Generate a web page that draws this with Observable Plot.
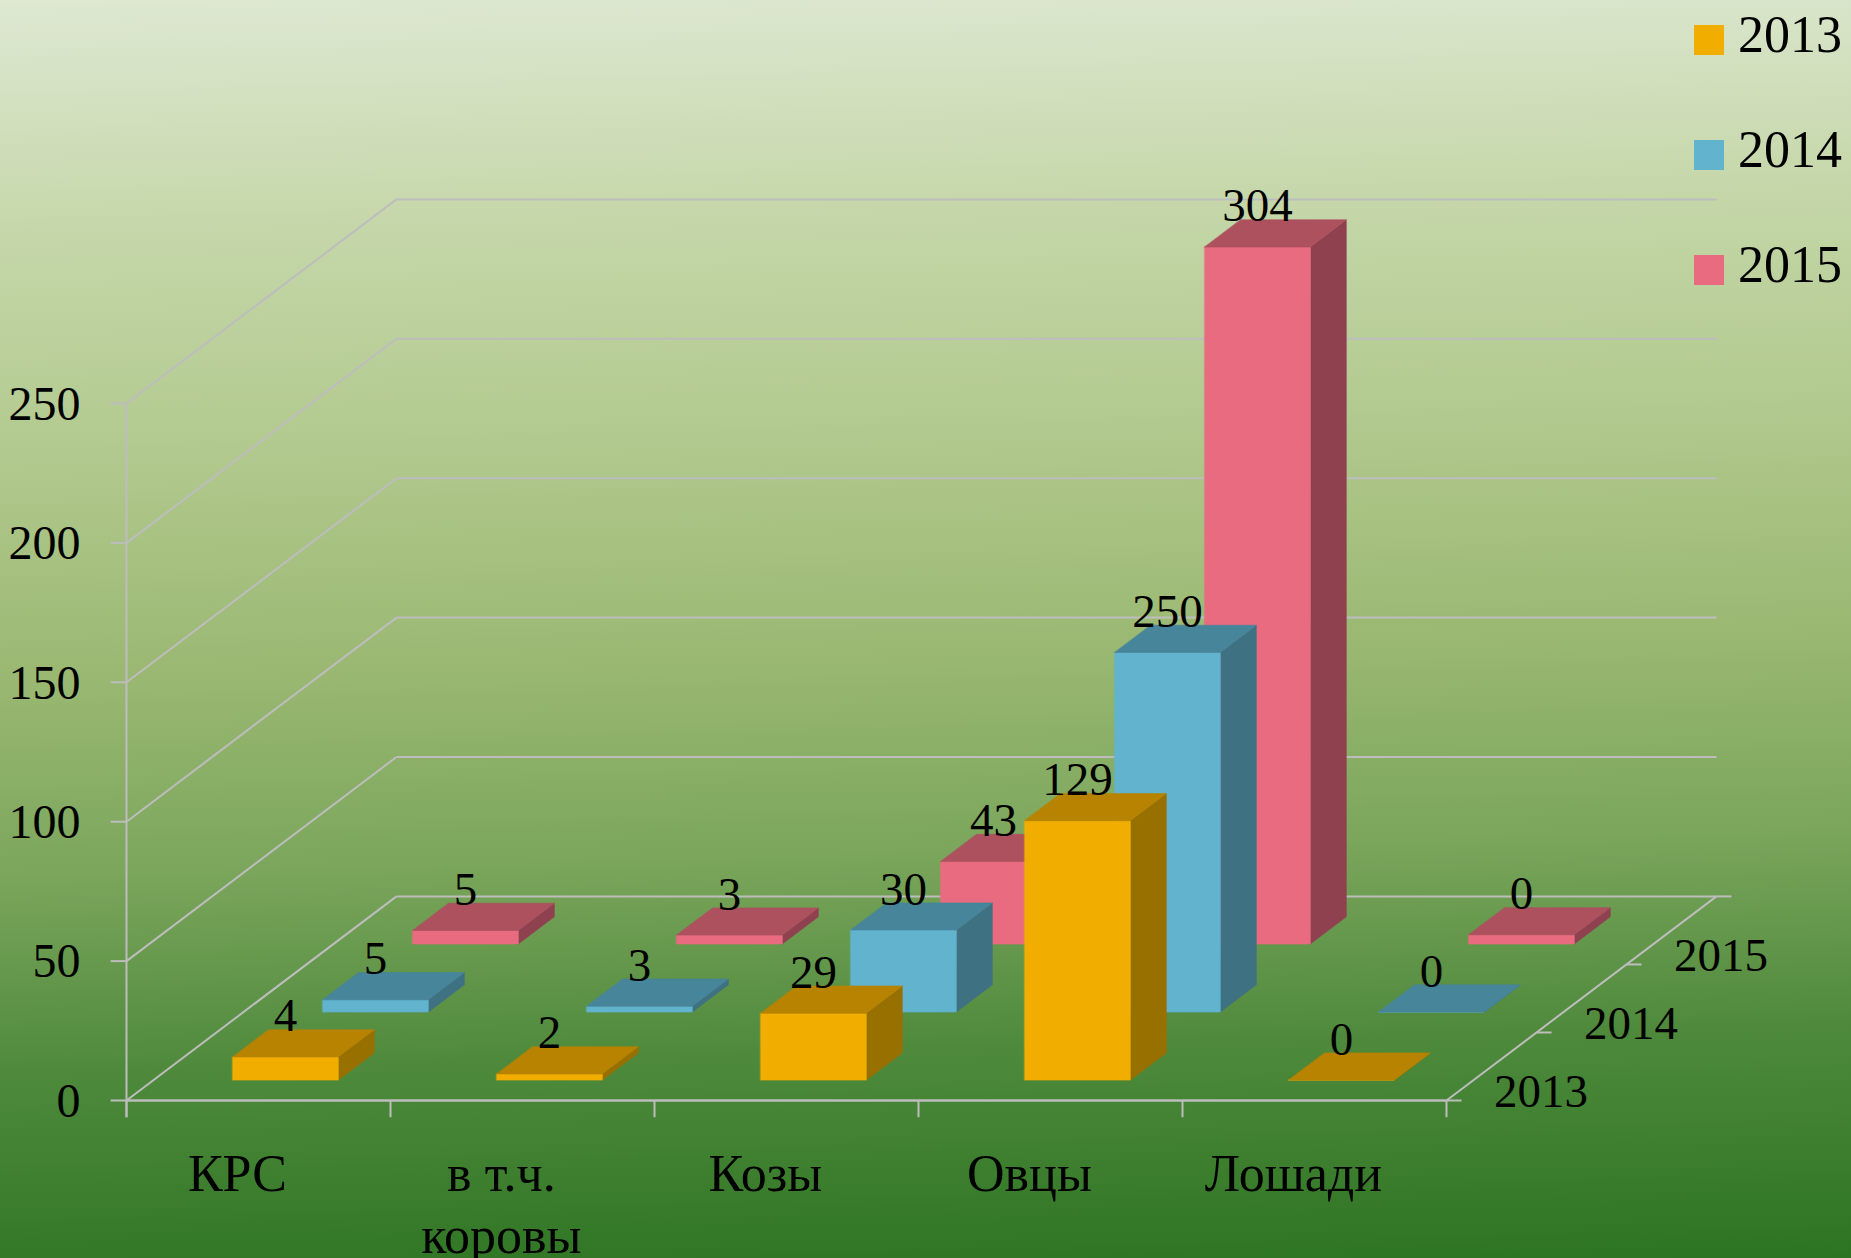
<!DOCTYPE html>
<html lang="ru">
<head>
<meta charset="utf-8">
<title>3D chart</title>
<script src="https://cdn.jsdelivr.net/npm/d3@7"></script>
<script src="https://cdn.jsdelivr.net/npm/@observablehq/plot@0.6"></script>
<style>
  html, body { margin: 0; padding: 0; }
  body {
    position: relative; width: 1851px; height: 1258px; overflow: hidden;
    background: linear-gradient(178.5deg, #dee8d2 0%, #c5d7a9 18%, #b0c88c 36%, #9ab872 52%, #7ba65c 67%, #4f8a3c 82%, #2c7422 100%);
    font-family: "Liberation Serif", serif; color: #000;
  }
  #legend { position: absolute; left: 0; top: 0; }
  .lg-swatch { position: absolute; left: 1694px; width: 30px; height: 30px; }
  .lg-label { position: absolute; left: 1738px; font-size: 52px; line-height: 52px; }
</style>
</head>
<body>
<div id="chart"></div>
<div id="legend"></div>
<script>
// ---- chart data -------------------------------------------------------
const categories = ["КРС", "в т.ч.\nкоровы", "Козы", "Овцы", "Лошади"];
const years = ["2013", "2014", "2015"];
// printed value labels
const labels2013 = [4, 2, 29, 129, 0];
const labels2014 = [5, 3, 30, 250, 0];
const labels2015 = [5, 3, 43, 304, 0];
// drawn bar heights as read against the value axis (they differ from the printed labels in the source)
const heights2013 = [8.3, 2.2, 24, 93, 0];
const heights2014 = [4.4, 2.1, 29.4, 129, 0];
const heights2015 = [4.9, 3.2, 29.6, 250, 3.3];
const valueTicks = [0, 50, 100, 150, 200, 250];
// face colours: front, top, side
const colors2013 = ["#f2ae00", "#b78300", "#987000"];
const colors2014 = ["#61b3ce", "#47859a", "#3e7182"];
const colors2015 = ["#e86b80", "#ad515e", "#8f4150"];

const series = [
  {year: years[0], slot: 0, heights: heights2013, labels: labels2013, colors: colors2013},
  {year: years[1], slot: 1, heights: heights2014, labels: labels2014, colors: colors2014},
  {year: years[2], slot: 2, heights: heights2015, labels: labels2015, colors: colors2015}
];

// oblique projection: one depth slot shifts a point along x (category units) and y (value units)
const depthX = 0.3409, depthY = 24.4, slots = years.length;
const barA = 0.3, barB = 0.7;
const px = (cat, depth) => cat + depth * depthX;
const py = (val, depth) => val + depth * depthY;

const faces = [];
for (const s of [...series].reverse()) {
  s.heights.forEach((h, c) => {
    const d0 = s.slot + barA, d1 = s.slot + barB, c0 = c + barA, c1 = c + barB;
    const poly = (name, fill, pts) => pts.forEach(([cc, v, d]) =>
      faces.push({id: `${s.year}-${c}-${name}`, fill, x: px(cc, d), y: py(v, d)}));
    poly("side", s.colors[2], [[c1, 0, d0], [c1, 0, d1], [c1, h, d1], [c1, h, d0]]);
    poly("front", s.colors[0], [[c0, 0, d0], [c1, 0, d0], [c1, h, d0], [c0, h, d0]]);
    poly("top", s.colors[1], [[c0, h, d0], [c1, h, d0], [c1, h, d1], [c0, h, d1]]);
  });
}

const barLabels = series.flatMap(s => s.labels.map((text, c) => ({
  text,
  x: px(c + 0.5, s.slot + barA),
  y: py(s.heights[c], s.slot + barB) - 0.6
})));

const catTicks = d3.range(categories.length + 1);
const depthTicks = d3.range(slots + 1);
const gridColor = "#bdbdbd";
const serif = "Liberation Serif";

const plot = Plot.plot({
  width: 1851,
  height: 1258,
  marginTop: 0, marginRight: 0, marginBottom: 0, marginLeft: 0,
  style: {background: "transparent", overflow: "visible"},
  x: {domain: [0, categories.length], range: [126, 1446], axis: null},
  y: {domain: [0, 250], range: [1100, 403], axis: null},
  marks: [
    // side wall lines
    Plot.link(valueTicks, {x1: 0, x2: px(0, slots), y1: d => d, y2: d => py(d, slots), stroke: gridColor, strokeWidth: 2}),
    // back wall lines
    Plot.link(valueTicks, {x1: px(0, slots), x2: px(categories.length, slots), y1: d => py(d, slots), y2: d => py(d, slots), stroke: gridColor, strokeWidth: 2}),
    // front floor edge and depth floor edge
    Plot.link([0], {x1: 0, x2: categories.length, y1: 0, y2: 0, stroke: gridColor, strokeWidth: 2.5}),
    Plot.link([0], {x1: categories.length, x2: px(categories.length, slots), y1: 0, y2: py(0, slots), stroke: gridColor, strokeWidth: 2}),
    // value axis and its ticks
    Plot.link([0], {x1: 0, x2: 0, y1: -6, y2: 250, stroke: gridColor, strokeWidth: 2}),
    Plot.link(valueTicks, {x1: -0.06, x2: 0, y1: d => d, y2: d => d, stroke: gridColor, strokeWidth: 2}),
    // category ticks
    Plot.link(catTicks, {x1: d => d, x2: d => d, y1: -6, y2: 0, stroke: gridColor, strokeWidth: 2}),
    // depth ticks
    Plot.link(depthTicks, {
      x1: d => px(categories.length, d), x2: d => px(categories.length, d) + 0.057,
      y1: d => py(0, d), y2: d => py(0, d), stroke: gridColor, strokeWidth: 2
    }),
    // bars
    Plot.line(faces, {x: "x", y: "y", z: "id", fill: "fill", stroke: "fill", strokeWidth: 0.6, curve: "linear-closed"}),
    // value tick labels
    Plot.text(valueTicks, {x: 0, y: d => d, text: d => String(d), dx: -46, dy: 1, textAnchor: "end", fontFamily: serif, fontSize: 48, fill: "#000"}),
    // category labels
    Plot.text(categories, {x: (d, i) => i + 0.42, y: -16.8, text: d => d, lineAnchor: "top", lineHeight: 1.19, fontFamily: serif, fontSize: 52, fill: "#000"}),
    // depth labels
    Plot.text(years, {
      x: (d, i) => px(categories.length, i) + 0.18 ,
      y: (d, i) => py(0, i + 0.5) - 14.5,
      text: d => d, textAnchor: "start", lineAnchor: "bottom", fontFamily: serif, fontSize: 47, fill: "#000"
    }),
    // bar value labels
    Plot.text(barLabels, {x: "x", y: "y", text: d => String(d.text), lineAnchor: "bottom", fontFamily: serif, fontSize: 47, fill: "#000"})
  ]
});
document.getElementById("chart").append(plot);

// legend
const legendTops = [25, 140, 255];
const legend = document.getElementById("legend");
series.forEach((s, i) => {
  const sw = document.createElement("div");
  sw.className = "lg-swatch";
  sw.style.top = legendTops[i] + "px";
  sw.style.background = s.colors[0];
  const tx = document.createElement("div");
  tx.className = "lg-label";
  tx.style.top = (legendTops[i] - 16) + "px";
  tx.textContent = s.year;
  legend.append(sw, tx);
});
</script>
</body>
</html>
